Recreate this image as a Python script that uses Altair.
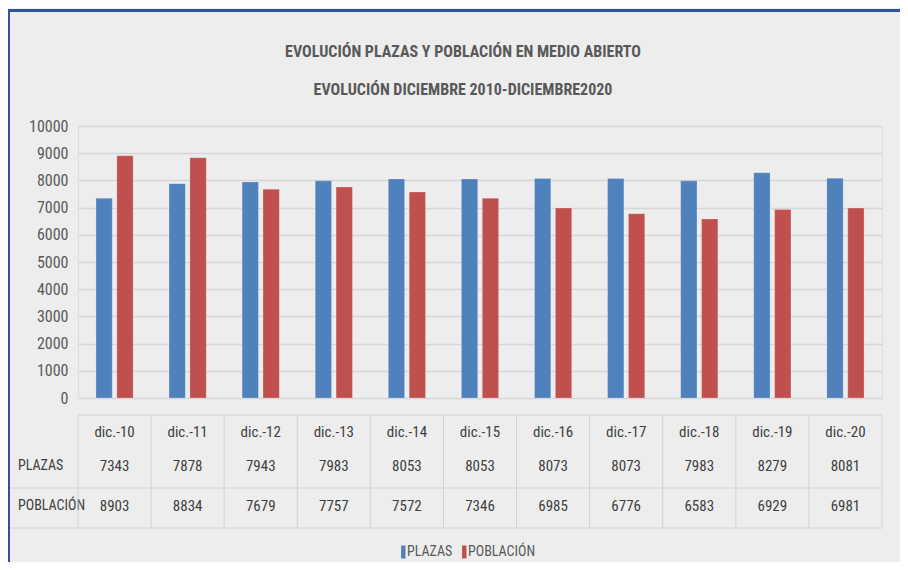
import altair as alt
import pandas as pd

categorias = ["dic.-10", "dic.-11", "dic.-12", "dic.-13", "dic.-14", "dic.-15",
              "dic.-16", "dic.-17", "dic.-18", "dic.-19", "dic.-20"]
plazas = [7343, 7878, 7943, 7983, 8053, 8053, 8073, 8073, 7983, 8279, 8081]
poblacion = [8903, 8834, 7679, 7757, 7572, 7346, 6985, 6776, 6583, 6929, 6981]
series = ["PLAZAS", "POBLACIÓN"]
colores = ["#4F81BD", "#C0504D"]
y_ticks = [0, 1000, 2000, 3000, 4000, 5000, 6000, 7000, 8000, 9000, 10000]
titulo = ["EVOLUCIÓN PLAZAS Y POBLACIÓN EN MEDIO ABIERTO",
          "EVOLUCIÓN DICIEMBRE 2010-DICIEMBRE2020"]

FONT = "Roboto Condensed, Liberation Sans Narrow, Roboto, sans-serif"
TXT = "#404040"
W, H = 804, 272

rows = []
for c, p, q in zip(categorias, plazas, poblacion):
    rows.append({"cat": c, "serie": series[0], "valor": p})
    rows.append({"cat": c, "serie": series[1], "valor": q})
df = pd.DataFrame(rows)
cats_df = pd.DataFrame({"cat": categorias})
one = pd.DataFrame({"a": [0]})

xsc = alt.Scale(domain=categorias, paddingInner=0, paddingOuter=0)

bars = alt.Chart(df).mark_bar(stroke="#ffffff", strokeOpacity=0.35, strokeWidth=0.6).encode(
    x=alt.X("cat:N", scale=xsc, axis=None, sort=categorias),
    xOffset=alt.XOffset("serie:N", scale=alt.Scale(domain=series, paddingInner=0.22, paddingOuter=0.86)),
    y=alt.Y("valor:Q", scale=alt.Scale(domain=[0, 10000], nice=False),
            axis=alt.Axis(values=y_ticks, format="d", title=None, domain=False, ticks=False,
                          grid=True, gridColor="#D6D6D6", gridWidth=1.6,
                          labelPadding=10, labelFontSize=16, labelColor="#595959",
                          labelFont=FONT)),
    color=alt.Color("serie:N", scale=alt.Scale(domain=series, range=colores),
                    legend=alt.Legend(title=None, orient="none", legendX=314, legendY=419,
                                      direction="horizontal", symbolType="M0.32,-1H1V1H0.32Z",
                                      symbolSize=169, symbolStrokeWidth=0, labelOffset=1,
                                      columnPadding=0, labelFontSize=14, labelColor="#595959",
                                      labelFont=FONT, padding=0)),
)

header = alt.Chart(cats_df).mark_text(fontSize=15, color=TXT, font=FONT, baseline="middle").encode(
    x=alt.X("cat:N", scale=xsc, axis=None, sort=categorias),
    y=alt.value(306),
    text="cat:N",
)

def value_row(serie, ypos):
    return alt.Chart(df).transform_filter(alt.datum.serie == serie).mark_text(
        fontSize=15, color=TXT, font=FONT, baseline="middle").encode(
        x=alt.X("cat:N", scale=xsc, axis=None, sort=categorias),
        y=alt.value(ypos),
        text=alt.Text("valor:Q", format="d"),
    )

def row_label(serie, ypos):
    return alt.Chart(pd.DataFrame({"s": [serie]})).mark_text(
        fontSize=14, color=TXT, font=FONT, baseline="middle", align="left").encode(
        x=alt.value(-60), y=alt.value(ypos), text="s:N")

def title_line(texto, ypos):
    return alt.Chart(pd.DataFrame({"t": [texto]})).mark_text(
        fontSize=16, fontWeight="bold", color="#595959", font=FONT, baseline="middle",
        align="center").encode(x=alt.value(385), y=alt.value(ypos), text="t:N")

vlines = alt.Chart(cats_df).mark_rule(color="#D2D2D2", strokeWidth=1).encode(
    x=alt.X("cat:N", scale=xsc, axis=None, sort=categorias, bandPosition=0),
    y=alt.value(289), y2=alt.value(402),
)
last_vline = alt.Chart(one).mark_rule(color="#D2D2D2", strokeWidth=1).encode(
    x=alt.value(W), y=alt.value(289), y2=alt.value(402))
top_line = alt.Chart(one).mark_rule(color="#D2D2D2", strokeWidth=1).encode(
    x=alt.value(0), x2=alt.value(W), y=alt.value(289))
mid_line = alt.Chart(one).mark_rule(color="#D2D2D2", strokeWidth=1).encode(
    x=alt.value(-68), x2=alt.value(W), y=alt.value(362))
bot_line = alt.Chart(one).mark_rule(color="#D2D2D2", strokeWidth=1).encode(
    x=alt.value(-68), x2=alt.value(W), y=alt.value(402))

border_top = alt.Chart(one).mark_rule(color="#2F5597", strokeWidth=3).encode(
    x=alt.value(-70), x2=alt.value(830), y=alt.value(-115.5))
border_left = alt.Chart(one).mark_rule(color="#2F5597", strokeWidth=2).encode(
    x=alt.value(-69), y=alt.value(-117), y2=alt.value(440))

chart = alt.layer(
    bars, header, value_row(series[0], 340), value_row(series[1], 380),
    row_label(series[0], 340), row_label(series[1], 380),
    title_line(titulo[0], -74), title_line(titulo[1], -36),
    vlines, last_vline, top_line, mid_line, bot_line, border_top, border_left,
).properties(
    width=W, height=H,
    autosize=alt.AutoSizeParams(type="none"),
    padding={"left": 70, "top": 118, "right": 18, "bottom": 164},
    background="#EDEDED",
).configure_view(stroke=None).configure(font=FONT)

chart.save("out.html", embed_options={"renderer": "svg", "actions": False})
